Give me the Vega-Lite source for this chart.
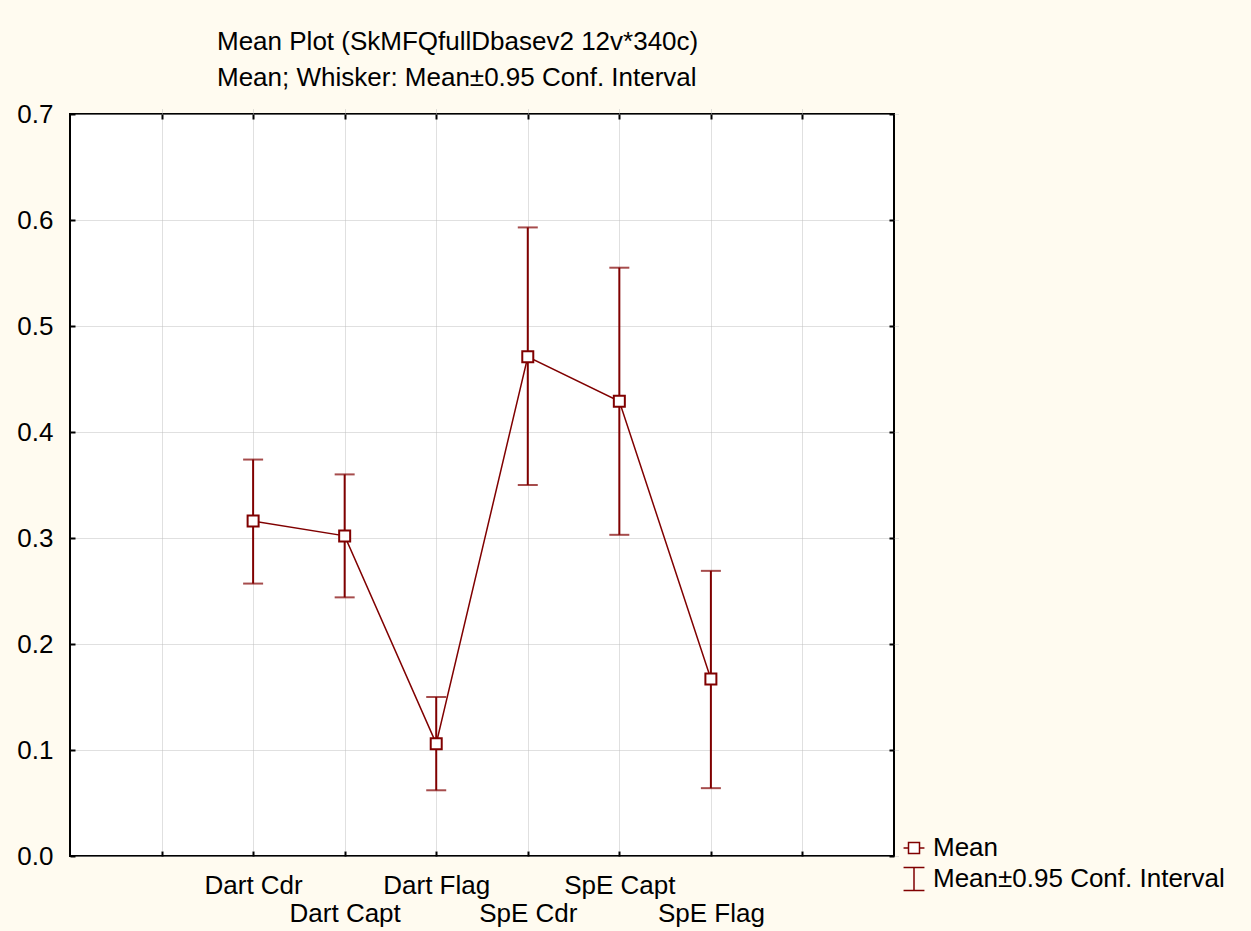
{
  "$schema": "https://vega.github.io/schema/vega-lite/v6.json",
  "width": 824,
  "height": 742,
  "autosize": {"type": "none"},
  "padding": {"left": 70, "top": 114, "right": 357, "bottom": 75},
  "background": "#FFFBF0",
  "config": {
    "view": {"stroke": "#000000", "strokeWidth": 2, "fill": "white"},
    "font": "Liberation Sans",
    "axis": {
      "labelFont": "Liberation Sans",
      "labelFontSize": 26,
      "labelColor": "#000000",
      "domain": false,
      "tickColor": "#000000",
      "tickWidth": 2,
      "tickSize": 5,
      "offset": -5,
      "gridColor": "#c0c0c0",
      "gridDash": [1, 1],
      "gridWidth": 1,
      "title": null
    }
  },
  "title": {
    "text": ["Mean Plot (SkMFQfullDbasev2 12v*340c)", "Mean; Whisker: Mean±0.95 Conf. Interval"],
    "anchor": "start",
    "frame": "group",
    "dx": 147,
    "offset": 10,
    "fontSize": 26,
    "fontWeight": "normal",
    "font": "Liberation Sans",
    "lineHeight": 36,
    "color": "#000000"
  },
  "data": {
    "values": [
      {"variable": "Dart Cdr", "mean": 0.316, "lower": 0.257, "upper": 0.374},
      {"variable": "Dart Capt", "mean": 0.302, "lower": 0.244, "upper": 0.360},
      {"variable": "Dart Flag", "mean": 0.106, "lower": 0.062, "upper": 0.150},
      {"variable": "SpE Cdr", "mean": 0.471, "lower": 0.350, "upper": 0.593},
      {"variable": "SpE Capt", "mean": 0.429, "lower": 0.303, "upper": 0.555},
      {"variable": "SpE Flag", "mean": 0.167, "lower": 0.064, "upper": 0.269}
    ]
  },
  "resolve": {"axis": {"x": "independent", "y": "independent"}},
  "layer": [
    {
      "mark": {"type": "line", "color": "#800000", "strokeWidth": 1.5},
      "encoding": {
        "x": {
          "field": "variable",
          "type": "ordinal",
          "scale": {"type": "point", "domain": [" ", "Dart Cdr", "Dart Capt", "Dart Flag", "SpE Cdr", "SpE Capt", "SpE Flag", "  "], "padding": 1},
          "axis": {
            "orient": "bottom",
            "grid": true,
            "labelAngle": 0,
            "labelPadding": 16,
            "labelLineHeight": 28,
            "labelOverlap": false,
            "labelExpr": "indexof(['Dart Capt','SpE Cdr','SpE Flag'], datum.value) >= 0 ? [' ', datum.value] : datum.value"
          }
        },
        "y": {
          "field": "mean",
          "type": "quantitative",
          "scale": {"domain": [0, 0.7], "nice": false, "zero": false},
          "axis": {
            "orient": "left",
            "values": [0, 0.1, 0.2, 0.3, 0.4, 0.5, 0.6, 0.7],
            "format": ".1f",
            "grid": true,
            "labelPadding": 17
          }
        },
        "order": {"value": null}
      }
    },
    {
      "mark": {"type": "rule", "color": "#800000", "strokeWidth": 2},
      "encoding": {
        "x": {
          "field": "variable",
          "type": "ordinal",
          "axis": {"orient": "top", "labels": false, "grid": false}
        },
        "y": {
          "field": "lower",
          "type": "quantitative",
          "axis": {"orient": "right", "labels": false, "grid": false, "values": [0, 0.1, 0.2, 0.3, 0.4, 0.5, 0.6, 0.7]}
        },
        "y2": {"field": "upper"}
      }
    },
    {
      "mark": {"type": "tick", "color": "#800000", "size": 20, "thickness": 2},
      "encoding": {
        "x": {"field": "variable", "type": "ordinal", "axis": null},
        "y": {"field": "lower", "type": "quantitative", "axis": null}
      }
    },
    {
      "mark": {"type": "tick", "color": "#800000", "size": 20, "thickness": 2},
      "encoding": {
        "x": {"field": "variable", "type": "ordinal", "axis": null},
        "y": {"field": "upper", "type": "quantitative", "axis": null}
      }
    },
    {
      "mark": {"type": "point", "shape": "square", "filled": true, "fill": "white", "stroke": "#800000", "strokeWidth": 2, "size": 121, "opacity": 1},
      "encoding": {
        "x": {"field": "variable", "type": "ordinal", "axis": null},
        "y": {"field": "mean", "type": "quantitative", "axis": null}
      }
    },
    {
      "transform": [{"filter": "false"}],
      "mark": {"type": "point", "filled": true, "fill": "white", "stroke": "#800000", "strokeWidth": 1.5, "size": 121, "opacity": 1},
      "encoding": {
        "x": {"field": "variable", "type": "ordinal", "axis": null},
        "y": {"field": "mean", "type": "quantitative", "axis": null},
        "shape": {
          "datum": "Mean",
          "scale": {"domain": ["Mean", "Mean±0.95 Conf. Interval"], "range": ["M-1,-1H1V1H-1ZM-1.9,0H-1M1,0H1.9", "M-1.9,-2.1H1.9M0,-2.1V2.1M-1.9,2.1H1.9"]},
          "legend": {
            "orient": "none",
            "legendX": 831,
            "legendY": 721,
            "title": null,
            "padding": 0,
            "labelFont": "Liberation Sans",
            "labelFontSize": 26,
            "labelColor": "#000000",
            "labelOffset": 6,
            "labelLimit": 400,
            "symbolSize": 121,
            "rowPadding": 3,
            "encode": {
              "symbols": {
                "update": {
                  "stroke": {"value": "#800000"},
                  "fill": {"value": "white"},
                  "strokeWidth": {"value": 1.5},
                  "opacity": {"value": 1}
                }
              }
            }
          }
        }
      }
    }
  ]
}
